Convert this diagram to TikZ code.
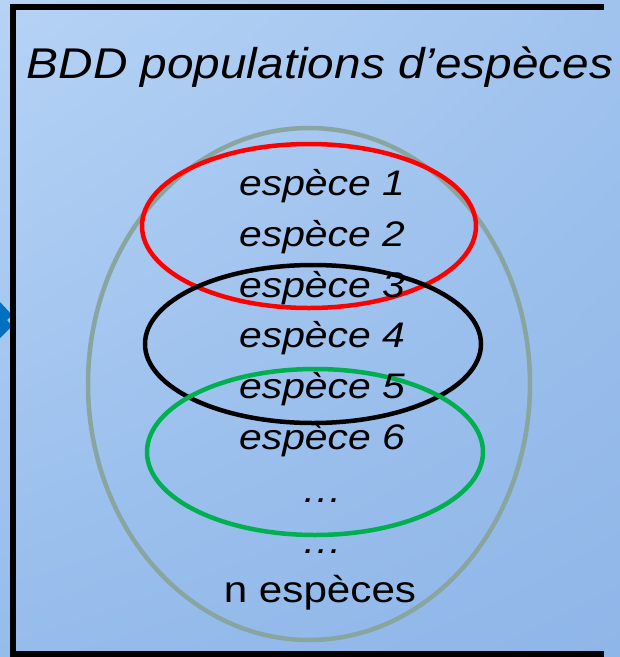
\documentclass[tikz,border=0pt]{standalone}
\usepackage{fontspec}
\setmainfont{Liberation Sans}
\usetikzlibrary{shadings}
\definecolor{bgUL}{RGB}{182,211,245}
\definecolor{bgUR}{RGB}{160,195,238}
\definecolor{bgLL}{RGB}{150,188,236}
\definecolor{bgLR}{RGB}{143,182,232}
\definecolor{arrowblue}{RGB}{0,112,192}
\definecolor{grayring}{RGB}{137,165,160}
\definecolor{greenring}{RGB}{0,176,80}
\tikzset{
  ring/.style={line width=4.5pt},
  sp/.style={anchor=base, inner sep=0pt, font=\fontsize{35.5}{42}\selectfont\itshape},
}
\newcommand{\wide}[2]{\scalebox{#1}[1]{#2}}
\begin{document}
\begin{tikzpicture}[x=1pt,y=-1pt]
\fill[bgLR] (0,0) rectangle (620,657);
\shade[upper left=bgUL, upper right=bgUR, lower left=bgLL, lower right=bgLR] (0,0) rectangle (620,657);
% left arrow tip
\fill[arrowblue] (0,302) -- (12,315) -- (7,320) -- (12,326) -- (0,338) -- cycle;
% frame (right side lies outside the picture)
\coordinate (fTR) at (604,7);
\coordinate (fBR) at (604,654);
\draw[line width=6pt] (fTR) -- (13,7) -- (13,654) -- (fBR);
% title
\node[anchor=base, inner sep=0pt, font=\fontsize{43}{50}\selectfont\itshape] (title) at (320,78) {\wide{1.11}{BDD populations d’espèces}};
% ellipses
\draw[ring, grayring] (309,384) ellipse [x radius=221, y radius=256];
\draw[ring, red] (309,226) ellipse [x radius=167, y radius=82];
\draw[ring, black] (313,344) ellipse [x radius=168, y radius=79];
\draw[ring, greenring] (315,452) ellipse [x radius=168, y radius=83];
% species
\node[sp] (s1) at (322,195) {\wide{1.15}{espèce 1}};
\node[sp] (s2) at (322,246) {\wide{1.15}{espèce 2}};
\node[sp] (s3) at (322,297) {\wide{1.15}{espèce 3}};
\node[sp] (s4) at (322,347) {\wide{1.15}{espèce 4}};
\node[sp] (s5) at (322,398) {\wide{1.15}{espèce 5}};
\node[sp] (s6) at (322,449) {\wide{1.15}{espèce 6}};
\node[sp] (d1) at (322,502) {\wide{1.15}{…}};
\node[sp] (d2) at (322,553) {\wide{1.15}{…}};
\node[anchor=base, inner sep=0pt, font=\fontsize{37}{44}\selectfont] (n) at (320,602) {\wide{1.14}{n espèces}};
\useasboundingbox (0,0) rectangle (620,657);
\end{tikzpicture}
\end{document}
